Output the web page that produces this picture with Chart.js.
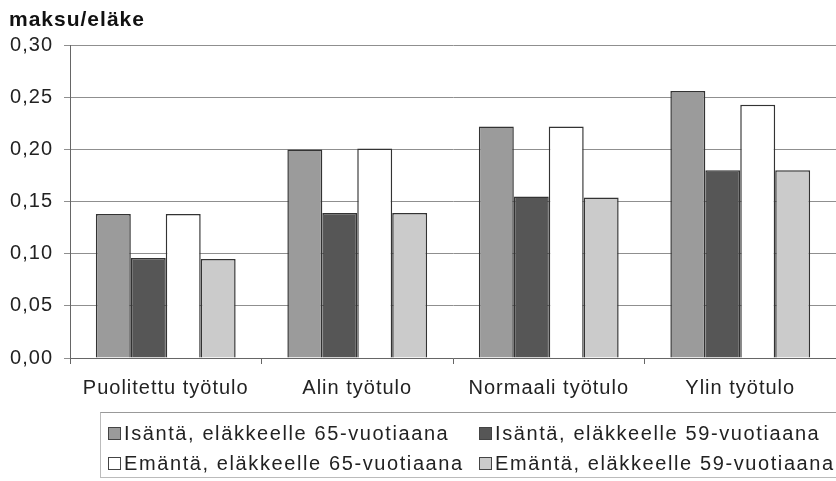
<!DOCTYPE html>
<html>
<head>
<meta charset="utf-8">
<script src="https://cdn.jsdelivr.net/npm/chart.js@4"></script>
<style>
  html, body { margin: 0; padding: 0; background: #fff; }
  #wrap { position: relative; width: 836px; height: 481px; }
  #legend {
    position: absolute; left: 100px; top: 412px; width: 736px; height: 66px;
    border-top: 1px solid #999; border-left: 1px solid #bbb; border-bottom: 1px solid #bbb;
    box-sizing: border-box;
    font-family: "Liberation Sans", Arial, sans-serif; font-size: 20px; letter-spacing: 1.6px; color: #222;
  }
  .item { position: absolute; display: flex; align-items: center; white-space: nowrap; height: 24px; }
  .mark { width: 13px; height: 13px; border: 1px solid #444; box-sizing: border-box; margin-right: 3px; }
</style>
</head>
<body>
<div id="wrap">
  <canvas id="chart" width="836" height="481"></canvas>
  <div id="legend"></div>
</div>
<script>
const categories = ['Puolitettu työtulo', 'Alin työtulo', 'Normaali työtulo', 'Ylin työtulo'];
const seriesNames = [
  'Isäntä, eläkkeelle 65-vuotiaana',
  'Isäntä, eläkkeelle 59-vuotiaana',
  'Emäntä, eläkkeelle 65-vuotiaana',
  'Emäntä, eläkkeelle 59-vuotiaana'
];
const isanta65 = [0.138, 0.200, 0.222, 0.256];
const isanta59 = [0.096, 0.139, 0.155, 0.180];
const emanta65 = [0.138, 0.201, 0.222, 0.243];
const emanta59 = [0.095, 0.139, 0.154, 0.180];
const colors = ['#9b9b9b', '#565656', '#ffffff', '#cbcbcb'];

const allValues = [isanta65, isanta59, emanta65, emanta59];
const font = '"Liberation Sans", Arial, sans-serif';

// the scanned original has wide letter spacing
const spacing = {
    id: 'spacing',
    afterInit: c => { c.ctx.letterSpacing = '1px'; },
    beforeUpdate: c => { c.ctx.letterSpacing = '1px'; },
    beforeDraw: c => { c.ctx.letterSpacing = '1px'; }
};

const ctx = document.getElementById('chart').getContext('2d');
const chart = new Chart(ctx, {
    type: 'bar',
    data: {
        labels: categories,
        datasets: allValues.map((vals, i) => ({
            label: seriesNames[i],
            data: vals,
            backgroundColor: colors[i],
            borderColor: '#333',
            borderWidth: 1.5,
            categoryPercentage: 0.73,
            barPercentage: 1
        }))
    },
    options: {
        responsive: false,
        animation: false,
        layout: { padding: { left: 9, right: 0, top: 0, bottom: 81 } },
        plugins: {
            legend: { display: false },
            tooltip: { enabled: false },
            title: {
                display: true,
                text: 'maksu/eläke',
                align: 'start',
                color: '#111',
                font: { family: font, size: 21, weight: 'bold' },
                padding: { top: 8, bottom: 12 }
            }
        },
        scales: {
            x: {
                grid: { offset: true, drawOnChartArea: false, color: '#666', tickLength: 6 },
                border: { color: '#666' },
                ticks: { color: '#222', font: { family: font, size: 20 }, padding: 12 },
                afterFit: s => { s.height = 42; }
            },
            y: {
                min: 0,
                max: 0.30,
                ticks: {
                    stepSize: 0.05,
                    color: '#222',
                    font: { family: font, size: 20 },
                    padding: 11,
                    callback: v => v.toFixed(2).replace('.', ',')
                },
                grid: { color: '#8f8f8f', tickLength: 6 },
                border: { color: '#666' },
                afterFit: s => { s.width = 61; }
            }
        }
    },
    plugins: [spacing]
});

// legend drawn from the same series arrays
const legend = document.getElementById('legend');
const pos = [[7, 20], [378, 20], [7, 50], [378, 50]];
seriesNames.forEach((name, i) => {
    const item = document.createElement('div');
    item.className = 'item';
    item.style.left = pos[i][0] + 'px';
    item.style.top = (pos[i][1] - 12) + 'px';
    const mark = document.createElement('span');
    mark.className = 'mark';
    mark.style.background = colors[i];
    const txt = document.createElement('span');
    txt.textContent = name;
    item.appendChild(mark);
    item.appendChild(txt);
    legend.appendChild(item);
});
</script>
</body>
</html>
